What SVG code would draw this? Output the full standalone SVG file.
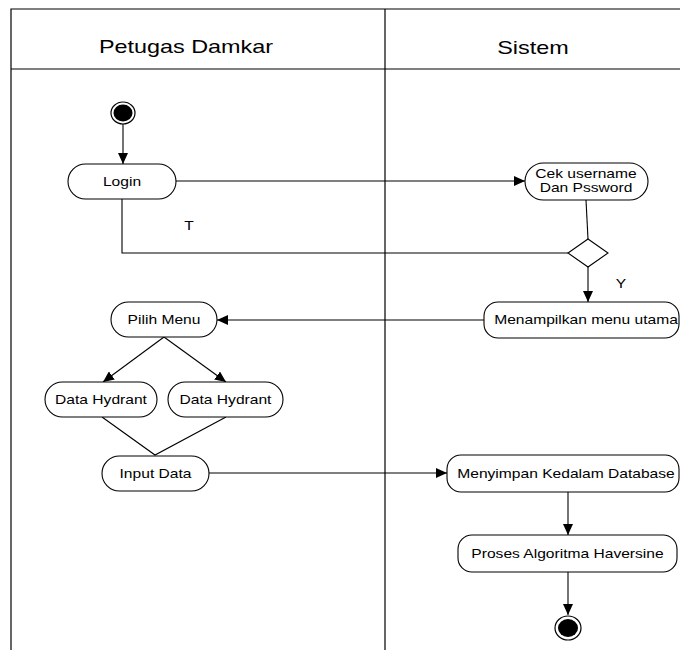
<svg xmlns="http://www.w3.org/2000/svg" width="680" height="650" viewBox="0 0 680 650">
  <style>
    .lane { fill: none; stroke: #000; stroke-width: 1.2; }
    .act { fill: #fff; stroke: #000; stroke-width: 1.1; }
    .edge { fill: none; stroke: #000; stroke-width: 1.1; }
    .t { font-family: "Liberation Sans", Arial, sans-serif; font-size: 12px; fill: #000; text-anchor: middle; }
    .h { font-family: "Liberation Sans", Arial, sans-serif; font-size: 18px; fill: #000; text-anchor: middle; }
  </style>
  <defs>
    <marker id="arrow" markerUnits="userSpaceOnUse" markerWidth="12" markerHeight="10" refX="11" refY="5" orient="auto">
      <path d="M0,0 L11,5 L0,10 Z" fill="#000"/>
    </marker>
  </defs>

  <rect width="680" height="650" fill="#fff"/>

  <!-- swimlane frame -->
  <g id="lanes">
    <path class="lane" d="M11,650 V9 H680 M11,69 H680 M385,9 V650"/>
    <text class="h" transform="translate(186,53) scale(1.3,1)">Petugas Damkar</text>
    <text class="h" transform="translate(533,54) scale(1.3,1)">Sistem</text>
  </g>

  <!-- connectors -->
  <g id="connectors">
    <path class="edge" d="M123,124 V164" marker-end="url(#arrow)"/>
    <path class="edge" d="M176,181 H525" marker-end="url(#arrow)"/>
    <path class="edge" d="M586,200 L588,239"/>
    <path class="edge" d="M122,199 V253 H568"/>
    <path class="edge" d="M588,267 V302" marker-end="url(#arrow)"/>
    <path class="edge" d="M484,320 H217" marker-end="url(#arrow)"/>
    <path class="edge" d="M164,337 L103,382" marker-end="url(#arrow)"/>
    <path class="edge" d="M164,337 L226,382" marker-end="url(#arrow)"/>
    <path class="edge" d="M102,417 L155,455 L226,417"/>
    <path class="edge" d="M209,473 H447" marker-end="url(#arrow)"/>
    <path class="edge" d="M568,492 V535" marker-end="url(#arrow)"/>
    <path class="edge" d="M568,572 V615" marker-end="url(#arrow)"/>
    <text class="t" transform="translate(189,230) scale(1.3,1)">T</text>
    <text class="t" transform="translate(621,288) scale(1.3,1)">Y</text>
  </g>

  <g id="start">
    <ellipse cx="123" cy="113" rx="12" ry="11" fill="#fff" stroke="#000" stroke-width="1.2"/>
    <ellipse cx="123" cy="113" rx="9.5" ry="8.5" fill="#000"/>
  </g>

  <g id="login">
    <rect class="act" x="68" y="164" width="108" height="35" rx="17.5"/>
    <text class="t" transform="translate(122,186) scale(1.3,1)">Login</text>
  </g>

  <g id="cek-login">
    <rect class="act" x="525" y="163" width="123" height="37" rx="18.5"/>
    <text class="t" transform="translate(586,178) scale(1.3,1)">Cek username</text>
    <text class="t" transform="translate(586,192) scale(1.3,1)">Dan Pssword</text>
  </g>

  <g id="decision">
    <path class="act" d="M588,239 L608,253 L588,267 L568,253 Z"/>
  </g>

  <g id="menu-utama">
    <rect class="act" x="484" y="302" width="195" height="36" rx="14"/>
    <text class="t" transform="translate(586,324) scale(1.3,1)">Menampilkan menu utama</text>
  </g>

  <g id="pilih-menu">
    <rect class="act" x="111" y="302" width="106" height="35" rx="17.5"/>
    <text class="t" transform="translate(164,324) scale(1.3,1)">Pilih Menu</text>
  </g>

  <g id="data-hydrant-1">
    <rect class="act" x="45" y="382" width="112" height="35" rx="17.5"/>
    <text class="t" transform="translate(101,404) scale(1.3,1)">Data Hydrant</text>
  </g>

  <g id="data-hydrant-2">
    <rect class="act" x="168" y="382" width="115" height="35" rx="17.5"/>
    <text class="t" transform="translate(225.5,404) scale(1.3,1)">Data Hydrant</text>
  </g>

  <g id="input-data">
    <rect class="act" x="102" y="456" width="107" height="35" rx="17.5"/>
    <text class="t" transform="translate(155.5,478) scale(1.3,1)">Input Data</text>
  </g>

  <g id="simpan-db">
    <rect class="act" x="447" y="455" width="232" height="37" rx="14"/>
    <text class="t" transform="translate(566,478) scale(1.3,1)">Menyimpan Kedalam Database</text>
  </g>

  <g id="haversine">
    <rect class="act" x="458" y="535" width="219" height="37" rx="14"/>
    <text class="t" transform="translate(567.5,558) scale(1.3,1)">Proses Algoritma Haversine</text>
  </g>

  <g id="end">
    <ellipse cx="568" cy="628" rx="13" ry="12" fill="#fff" stroke="#000" stroke-width="1.2"/>
    <ellipse cx="568" cy="628" rx="10" ry="9" fill="#000"/>
  </g>
</svg>
